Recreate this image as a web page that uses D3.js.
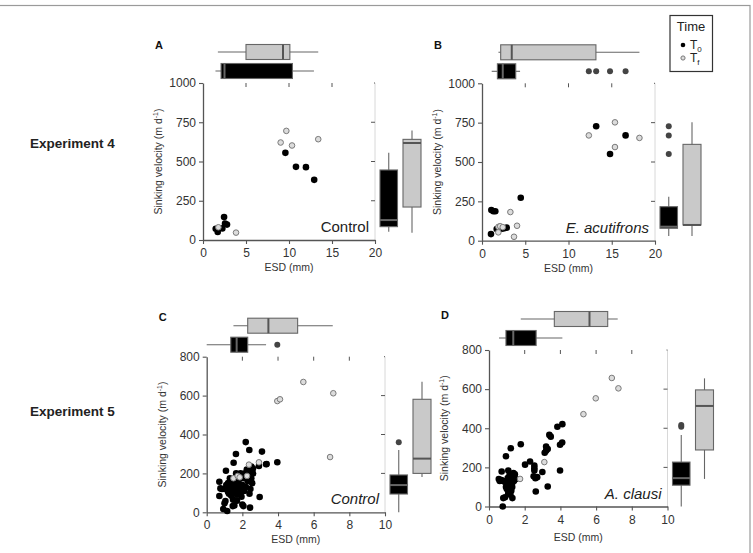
<!DOCTYPE html>
<html><head><meta charset="utf-8">
<script src="https://cdn.jsdelivr.net/npm/d3@7"></script>
<style>
body{margin:0;background:#fff;}
svg{display:block;font-family:"Liberation Sans",Arial,sans-serif;}
</style></head>
<body><svg id="chart" width="753" height="553"></svg>
<script>
// ---------- DATA ----------
const panelLetters = ["A","B","C","D"];
const panelNames = ["Control","E. acutifrons","Control","A. clausi"];
const experimentLabels = ["Experiment 4","Experiment 5"];
const xDomains = [[0,20],[0,20],[0,10],[0,10]];
const yDomains = [[0,1000],[0,1000],[0,800],[0,800]];
const xTicks = [[0,5,10,15,20],[0,5,10,15,20],[0,2,4,6,8,10],[0,2,4,6,8,10]];
const yTicks = [[0,250,500,750,1000],[0,250,500,750,1000],[0,200,400,600,800],[0,200,400,600,800]];

// scatter points [ESD, velocity]
const A_T0 = [[1.48,72],[1.71,51],[2.25,74],[2.45,146],[2.56,104],[2.79,98],[9.58,555],[10.81,466],[11.97,464],[12.93,383]];
const A_Tf = [[1.79,81],[3.84,47],[9.03,621],[9.69,695],[10.35,602],[13.4,642]];
const B_T0 = [[1.04,42],[1.08,195],[1.31,187],[1.54,187],[1.7,74],[2.0,79],[2.3,76],[2.58,79],[2.86,83],[4.48,273],[13.2,727],[14.8,551],[16.6,669]];
const B_Tf = [[1.89,53],[1.9,88],[2.1,92],[2.4,86],[3.28,182],[3.7,25],[4.05,95],[12.35,669],[15.37,752],[15.37,595],[18.2,653]];
const C_T0 = [[0.71,157],[0.77,123],[0.85,120],[0.71,84],[1.05,58],[1.0,46],[0.93,17],[1.15,7],[1.08,214],[1.46,32],[1.55,35],[2.06,32],[2.43,24],[2.97,79],[1.51,255],[1.64,300],[2.19,361],[2.39,320],[3.1,312],[3.36,248],[3.96,257],[2.93,238],[3.33,247],
 [1.2,150],[1.3,140],[1.35,120],[1.4,160],[1.45,100],[1.5,130],[1.55,145],[1.6,110],[1.62,170],[1.7,90],[1.75,130],[1.8,150],[1.85,120],[1.9,200],[1.95,80],[2.0,140],[2.05,175],[2.1,110],[2.15,200],[2.2,130],[2.25,220],[2.3,160],[2.35,190],[2.4,210],[2.45,230],[2.5,175],[2.55,150],[2.6,200],[1.25,95],[1.3,175],[1.15,130],[1.1,140],[1.38,85],[1.48,65],[1.7,60],[1.9,100],[2.0,40],[2.4,95],[2.45,120],[2.6,225],[2.5,235],[1.65,200],[1.0,120],[1.2,105]];
const C_Tf = [[3.96,572],[4.11,581],[5.42,670],[7.1,612],[6.92,284],[2.93,257],[2.37,245],[1.5,175],[1.74,187],[2.26,187],[1.85,180]];
const D_T0 = [[4.11,421],[3.83,408],[3.38,366],[3.46,357],[1.78,318],[1.22,298],[3.2,306],[3.29,294],[3.2,285],[3.12,275],[4.1,327],[3.98,316],[0.95,257],[2.3,230],[2.02,214],[2.54,209],[2.54,196],[2.54,184],[2.99,176],[3.98,184],[2.5,155],[2.6,145],[2.7,150],[3.29,102],[2.62,77],[0.71,179],[1.08,184],[1.37,171],[0.8,43],[0.9,47],[1.31,43],[1.08,68],[0.77,0],
 [0.55,140],[0.6,130],[0.7,135],[0.8,130],[0.9,125],[1.0,130],[1.05,110],[1.1,120],[1.15,100],[1.2,90],[1.25,140],[1.3,120],[1.35,150],[1.4,130],[1.45,165],[1.5,140],[1.0,90],[1.1,75],[1.2,60],[0.95,100],[1.15,160],[1.25,80],[1.05,145],[1.3,100]];
const D_Tf = [[1.74,141],[3.1,227],[5.29,472],[5.98,553],[6.88,657],[7.25,604]];

// box stats [lowWhisker, q1, median, q3, highWhisker]
const topBoxT0 = [[1.45,2.1,2.5,10.4,12.9],[1.12,1.78,2.4,3.9,4.4],[0,1.35,1.68,2.3,3.33],[0.56,0.95,1.36,2.64,4.11]];
const topBoxTf = [[1.73,5.0,9.3,10.1,13.4],[1.9,2.16,3.44,13.17,18.2],[1.5,2.3,3.46,5.1,7.07],[1.78,3.66,5.63,6.65,7.21]];
const topOutT0 = [[],[12.35,13.2,14.8,16.6],[3.96],[]];
const rightBoxT0 = [[53,85,127,446,556],[30,79,89,216,280],[0,94,140,192,320],[0,109,145,227,366]];
const rightBoxTf = [[46,210,618,641,697],[30,100,100,612,752],[182,200,276,581,671],[141,289,514,596,655]];
const rightOutT0 = [[],[551,669,727],[360],[408,416]];

const pointsT0 = [A_T0,B_T0,C_T0,D_T0];
const pointsTf = [A_Tf,B_Tf,C_Tf,D_Tf];

// ---------- LAYOUT ----------
const frames = [
  {x0:203,x1:375,y0:83,y1:240},
  {x0:482,x1:655,y0:83.3,y1:240.7},
  {x0:206.7,x1:385,y0:356.7,y1:512.3},
  {x0:489,x1:667.5,y0:350,y1:506.5}
];
const nameItalic = [false,true,true,true];
const xLabelOffset = [31,31,31,34];

const svg = d3.select("#chart");
svg.append("rect").attr("x",-1).attr("y",5.5).attr("width",751).attr("height",560)
  .attr("fill","none").attr("stroke","#9a9a9a").attr("stroke-width",1.2);

const axisCol = "#555";
const darkFill = "#000", greyFill = "#c9c9c9", boxStroke = "#666";

experimentLabels.forEach((t,i)=>{
  svg.append("text").attr("x",30).attr("y",[148,416][i]).text(t)
    .attr("font-size",13.5).attr("font-weight","bold").attr("fill","#222");
});

function drawHBox(g, sx, stats, yTop, yBot, fill, medCol){
  const yc=(yTop+yBot)/2;
  g.append("line").attr("x1",sx(stats[0])).attr("x2",sx(stats[4])).attr("y1",yc).attr("y2",yc)
    .attr("stroke",boxStroke).attr("stroke-width",1.1);
  g.append("rect").attr("x",sx(stats[1])).attr("y",yTop).attr("width",sx(stats[3])-sx(stats[1])).attr("height",yBot-yTop)
    .attr("fill",fill).attr("stroke",boxStroke).attr("stroke-width",1.1);
  g.append("line").attr("x1",sx(stats[2])).attr("x2",sx(stats[2])).attr("y1",yTop).attr("y2",yBot)
    .attr("stroke",medCol).attr("stroke-width",2);
}
function drawVBox(g, sy, stats, xL, xR, fill, medCol){
  const xc=(xL+xR)/2;
  g.append("line").attr("x1",xc).attr("x2",xc).attr("y1",sy(stats[0])).attr("y2",sy(stats[4]))
    .attr("stroke",boxStroke).attr("stroke-width",1.1);
  g.append("rect").attr("x",xL).attr("y",sy(stats[3])).attr("width",xR-xL).attr("height",sy(stats[1])-sy(stats[3]))
    .attr("fill",fill).attr("stroke",boxStroke).attr("stroke-width",1.1);
  g.append("line").attr("x1",xL).attr("x2",xR).attr("y1",sy(stats[2])).attr("y2",sy(stats[2]))
    .attr("stroke",medCol).attr("stroke-width",2);
}

frames.forEach((f,i)=>{
  const g = svg.append("g");
  const sx = d3.scaleLinear().domain(xDomains[i]).range([f.x0,f.x1]);
  const sy = d3.scaleLinear().domain(yDomains[i]).range([f.y1,f.y0]);

  // right faint frame with inner ticks, top inner ticks
  g.append("line").attr("x1",f.x1).attr("x2",f.x1).attr("y1",f.y0).attr("y2",f.y1)
    .attr("stroke","#d8d8d8").attr("stroke-width",1);
  yTicks[i].slice(1,-1).forEach(v=>{
    g.append("line").attr("x1",f.x1-4).attr("x2",f.x1).attr("y1",sy(v)).attr("y2",sy(v)).attr("stroke",axisCol);
  });
  xTicks[i].slice(1,-1).forEach(v=>{
    g.append("line").attr("x1",sx(v)).attr("x2",sx(v)).attr("y1",f.y0).attr("y2",f.y0+4).attr("stroke",axisCol);
  });
  g.append("line").attr("x1",f.x1-1).attr("x2",f.x1).attr("y1",f.y0).attr("y2",f.y0).attr("stroke",axisCol);

  // axes
  const xa = g.append("g").attr("transform",`translate(0,${f.y1})`)
    .call(d3.axisBottom(sx).tickValues(xTicks[i]).tickFormat(d3.format("d")).tickSize(4).tickSizeOuter(0));
  const ya = g.append("g").attr("transform",`translate(${f.x0},0)`)
    .call(d3.axisLeft(sy).tickValues(yTicks[i]).tickFormat(d3.format("d")).tickSize(4).tickSizeOuter(0));
  [xa,ya].forEach(a=>{
    a.select(".domain").attr("stroke",axisCol).attr("stroke-width",1.3);
    a.selectAll(".tick line").attr("stroke",axisCol).attr("stroke-width",1.1);
    a.selectAll(".tick text").attr("font-size",12).attr("fill","#333")
      .attr("font-family","'Liberation Sans',Arial,sans-serif");
  });
  xa.selectAll(".tick text").attr("dy","0.85em");

  // labels
  g.append("text").attr("x",(f.x0+f.x1)/2).attr("y",f.y1+xLabelOffset[i]).attr("text-anchor","middle")
    .attr("font-size",10.5).attr("fill","#333").text("ESD (mm)");
  const yl = g.append("text").attr("transform",`translate(${f.x0-41},${(f.y0+f.y1)/2}) rotate(-90)`)
    .attr("text-anchor","middle").attr("font-size",10.5).attr("fill","#333");
  yl.append("tspan").text("Sinking velocity (m d");
  yl.append("tspan").attr("dy",-4).attr("font-size",7).text("-1");
  yl.append("tspan").attr("dy",4).text(")");

  g.append("text").attr("x",f.x0-48).attr("y",f.y0-[34,34,36,31][i]).attr("font-size",11)
    .attr("font-weight","bold").attr("fill","#111").text(panelLetters[i]);

  g.append("text").attr("x",f.x1-6).attr("y",f.y1-8).attr("text-anchor","end")
    .attr("font-size",15).attr("fill","#222").attr("font-style",nameItalic[i]?"italic":"normal")
    .text(panelNames[i]);

  // top boxplots
  drawHBox(g, sx, topBoxTf[i], f.y0-38.5, f.y0-23.5, greyFill, "#555");
  drawHBox(g, sx, topBoxT0[i], f.y0-19.5, f.y0-4.5, darkFill, "#666");
  topOutT0[i].forEach(v=>g.append("circle").attr("cx",sx(v)).attr("cy",f.y0-12).attr("r",3).attr("fill","#444"));
  // right boxplots
  drawVBox(g, sy, rightBoxT0[i], f.x1+5, f.x1+22.5, darkFill, "#666");
  drawVBox(g, sy, rightBoxTf[i], f.x1+28, f.x1+46, greyFill, "#555");
  rightOutT0[i].forEach(v=>g.append("circle").attr("cx",f.x1+13.75).attr("cy",sy(v)).attr("r",3).attr("fill","#444"));

  // points
  g.selectAll(".t0").data(pointsT0[i]).enter().append("circle")
    .attr("cx",d=>sx(d[0])).attr("cy",d=>sy(d[1])).attr("r",3.3).attr("fill","#000");
  g.selectAll(".tf").data(pointsTf[i]).enter().append("circle")
    .attr("cx",d=>sx(d[0])).attr("cy",d=>sy(d[1])).attr("r",2.8)
    .attr("fill","#dcdcdc").attr("stroke","#7a7a7a").attr("stroke-width",1);
});

// legend
const lg = svg.append("g");
lg.append("rect").attr("x",670).attr("y",15.5).attr("width",42.5).attr("height",56)
  .attr("fill","#fff").attr("stroke","#333").attr("stroke-width",1.2);
lg.append("text").attr("x",691).attr("y",31).attr("text-anchor","middle").attr("font-size",13).attr("fill","#222").text("Time");
lg.append("circle").attr("cx",683).attr("cy",45).attr("r",2.3).attr("fill","#000");
lg.append("circle").attr("cx",683).attr("cy",58).attr("r",2.1).attr("fill","#ddd").attr("stroke","#777");
[["0",49],["f",62]].forEach(([s,y])=>{
  const t = lg.append("text").attr("x",690).attr("y",y).attr("font-size",12).attr("fill","#222");
  t.append("tspan").text("T");
  t.append("tspan").attr("dy",3).attr("font-size",8).text(s);
});
</script></body></html>
